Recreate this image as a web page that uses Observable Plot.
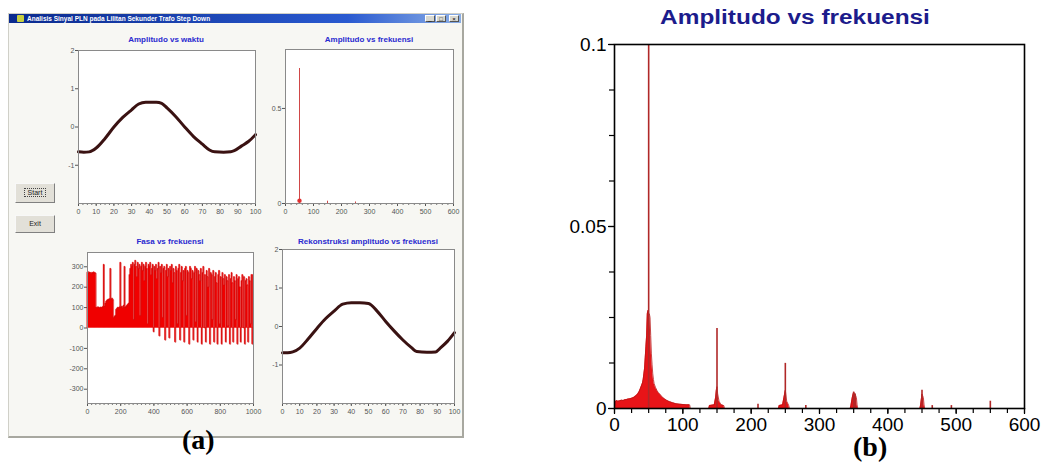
<!DOCTYPE html>
<html><head><meta charset="utf-8">
<script src="https://cdn.jsdelivr.net/npm/d3@7"></script>
<script src="https://cdn.jsdelivr.net/npm/@observablehq/plot@0.6"></script>
<style>
body{margin:0;background:#fff;width:1042px;height:463px;overflow:hidden;position:relative;font-family:"Liberation Sans",Arial,sans-serif}
.abs{position:absolute}
.win{left:8px;top:13px;width:456px;height:425px;background:#f7f7f3;border:1px solid #d0d0c8;border-right:2px solid #a8a8a0;border-bottom:2px solid #a8a8a0;box-sizing:border-box}
.tbar{left:9px;top:14px;width:452px;height:9px;background:linear-gradient(to right,#0a2a8e,#2a5ad0 75%,#8aaee6)}
.ttext{left:27px;top:14px;height:9px;line-height:9px;font-size:6.5px;font-weight:bold;color:#fff;white-space:nowrap}
.ticon{left:17px;top:15px;width:7px;height:7px;background:#c8d040;border-radius:1px}
.tbtn{top:15px;width:10px;height:7px;background:#d8d8d0;border:1px solid #fff;border-right-color:#555;border-bottom-color:#555;font-size:6px;line-height:7px;text-align:center;color:#000;box-sizing:border-box}
.btn{left:15px;width:40px;background:#e2e0d8;border:1px solid #f8f8f8;border-right-color:#808080;border-bottom-color:#808080;font-size:7px;text-align:center;color:#222;box-sizing:border-box}
.stitle{font-size:8px;font-weight:bold;color:#2a2ad0;text-align:center;white-space:nowrap}
.cap{font-family:"Liberation Serif","Times New Roman",serif;font-weight:bold;font-size:28px;color:#000}
.btitle{font-size:20px;font-weight:bold;color:#1c1c8c;text-align:center;white-space:nowrap;transform:scaleX(1.22);transform-origin:50% 50%}
</style></head><body>
<div class="abs win"></div>
<div class="abs tbar"></div>
<div class="abs ticon"></div>
<div class="abs ttext">Analisis Sinyal PLN pada Lilitan Sekunder Trafo Step Down</div>
<div class="abs tbtn" style="left:425px">_</div>
<div class="abs tbtn" style="left:436px">□</div>
<div class="abs tbtn" style="left:449px">×</div>
<div class="abs btn" style="top:183px;height:20px;line-height:18px"><span style="border:1px dotted #444;padding:0 3px">Start</span></div>
<div class="abs btn" style="top:215px;height:18px;line-height:16px">Exit</div>
<div class="abs stitle" style="left:66px;top:35px;width:200px">Amplitudo vs waktu</div>
<div class="abs stitle" style="left:269px;top:35px;width:200px">Amplitudo vs frekuensi</div>
<div class="abs stitle" style="left:70px;top:237px;width:200px">Fasa vs frekuensi</div>
<div class="abs stitle" style="left:268px;top:237px;width:200px">Rekonstruksi amplitudo vs frekuensi</div>
<div class="abs btitle" style="left:595px;top:6px;width:400px">Amplitudo vs frekuensi</div>
<div id="c1" class="abs" style="left:40px;top:45px"></div>
<div id="c2" class="abs" style="left:255px;top:44px"></div>
<div id="c3" class="abs" style="left:45px;top:247px"></div>
<div id="c4" class="abs" style="left:257px;top:244px"></div>
<div id="cb" class="abs" style="left:565px;top:35px"></div>
<div class="abs cap" style="left:182px;top:424px">(a)</div>
<div class="abs cap" style="left:853px;top:431px">(b)</div>
<script>
// ---------- data ----------
// Amplitudo vs waktu
const waktuT   = [0,3,6,10,15,20,25,30,34,38,44,47,50,55,60,65,70,74,77,82,86,88,92,96,100];
const waktuAmp = [-0.65,-0.66,-0.65,-0.55,-0.3,0,0.25,0.45,0.6,0.65,0.65,0.62,0.5,0.27,0,-0.25,-0.45,-0.6,-0.65,-0.66,-0.65,-0.62,-0.5,-0.38,-0.2];
// Rekonstruksi amplitudo
const rekT   = [0,3,6,10,15,20,25,30,35,40,45,50,55,60,65,70,75,78,84,89,92,96,100];
const rekAmp = [-0.68,-0.68,-0.66,-0.56,-0.32,-0.05,0.2,0.4,0.58,0.62,0.62,0.6,0.4,0.13,-0.12,-0.35,-0.55,-0.65,-0.67,-0.66,-0.55,-0.38,-0.16];
// small spectrum
const smallFreq = [50,150,250];
const smallAmp  = [0.71,0.012,0.008];
// Fasa vs frekuensi
const phaseFreq = [0,5,10,15,20,25,30,35,40,45,50,55,60,65,70,75,80,85,90,95,100,105,110,115,120,125,130,135,140,145,150,155,160,165,170,175,180,185,190,195,200,205,210,215,220,225,230,235,240,245,250,255,260,265,270,275,280,285,290,295,300,305,310,315,320,325,330,335,340,345,350,355,360,365,370,375,380,385,390,395,400,405,410,415,420,425,430,435,440,445,450,455,460,465,470,475,480,485,490,495,500,505,510,515,520,525,530,535,540,545,550,555,560,565,570,575,580,585,590,595,600,605,610,615,620,625,630,635,640,645,650,655,660,665,670,675,680,685,690,695,700,705,710,715,720,725,730,735,740,745,750,755,760,765,770,775,780,785,790,795,800,805,810,815,820,825,830,835,840,845,850,855,860,865,870,875,880,885,890,895,900,905,910,915,920,925,930,935,940,945,950,955,960,965,970,975,980,985,990,995,1000];
const phaseVal = [270,275,268,272,270,266,271,269,273,270,268,
100,98,102,100,97,101,99,100,104,310,105,
120,130,135,138,140,142,290,140,145,138,
50,55,60,90,95,100,98,102,320,100,105,98,110,300,100,105,110,115,120,
260,290,310,300,320,40,310,330,300,250,
320,290,310,60,300,320,280,310,230,300,
320,290,20,310,300,320,260,290,310,-20,
300,280,310,240,290,320,-40,300,270,310,
50,290,300,-60,280,310,250,290,-50,300,
280,310,220,290,270,-70,300,280,20,290,
310,-60,270,300,230,280,-70,290,300,60,
280,270,-80,300,290,240,280,-60,270,300,
30,290,-70,280,260,230,290,-80,270,300,
0,260,-70,280,250,200,290,-80,270,260,
40,280,-70,250,270,220,-80,260,280,20,
250,-80,270,240,210,260,-70,250,230,10,
260,-80,240,270,220,-70,250,230,40,260,
-80,240,250,200,-70,230,260,0,250,-80,
230,240,210,-70,250,230,20,260,-80,260];
// (b) big spectrum: broad part and harmonic bumps
const bandFreq = [0,1,3,5,8,10,13,15,18,20,23,25,28,30,32,34,36,38,40,41,42,43,44,45,46,47,48,49,50,51,52,53,54,55,56,57,58,60,62,64,66,68,70,73,76,80,85,90,95,100,105,110,111,
138,139,146,148,149,150,151,153,156,160,161,
240,241,246,248,250,252,255,256,
345,346,348,350,352,354,355,356,
447,448,450,452,453,454];
const bandAmp = [0.0005,0.0018,0.0022,0.002,0.0021,0.0023,0.0022,0.0024,0.0025,0.0026,0.0027,0.0028,0.003,0.0033,0.0036,0.004,0.0046,0.0055,0.0065,0.007,0.008,0.0095,0.011,0.014,0.017,0.02,0.026,0.027,0.026,0.026,0.025,0.02,0.015,0.012,0.0095,0.008,0.0068,0.0058,0.005,0.0044,0.004,0.0036,0.0031,0.0027,0.0023,0.0019,0.0016,0.0013,0.0012,0.0011,0.001,0.001,0,
0,0.0008,0.001,0.003,0.005,0.006,0.004,0.002,0.001,0.0008,0,
0,0.0008,0.001,0.003,0.005,0.002,0.0008,0,
0,0.0008,0.003,0.0045,0.004,0.003,0.001,0,
0,0.001,0.004,0.003,0.001,0];
const spikeFreq = [50,150,250,350,352,450,550,210,280,465,493];
const spikeAmp  = [0.1,0.022,0.0124,0.0045,0.004,0.005,0.002,0.0012,0.0008,0.0008,0.0008];
// tick labels
const wTicksX = [0,10,20,30,40,50,60,70,80,90,100];
const wTicksY = [-1,0,1,2];
const fTicksX = [0,100,200,300,400,500,600];
const fTicksY = [0,0.5];
const pTicksX = [0,200,400,600,800,1000];
const pTicksY = [-300,-200,-100,0,100,200,300];
const bTicksX = [0,100,200,300,400,500,600];
const bTicksY = [0,0.05,0.1];

// ---------- charts ----------
const smallStyle = {fontSize:"7px",fontFamily:"Liberation Sans, Arial, sans-serif",color:"#555",background:"transparent",overflow:"visible"};
const zip = (a,b) => a.map((v,i)=>({x:v,y:b[i]}));
const plain = d => String(d);

function waveChart(T, A, ml){
  return Plot.plot({
    width: ml===38?225:207, height: ml===38?180:181, marginLeft: ml, marginRight:10, marginTop:5, marginBottom:22,
    style: smallStyle,
    x:{domain:[0,100],label:null}, y:{domain:[-2,2],label:null},
    marks:[
      Plot.frame({fill:"white",stroke:null}),
      Plot.axisX({ticks:d3.range(0,101,2.5),tickSize:2,tickFormat:()=>"",stroke:"#777"}),
      Plot.axisX({ticks:wTicksX,tickSize:3,tickPadding:3,tickFormat:plain}),
      Plot.axisY({ticks:wTicksY,tickSize:3,tickPadding:1,tickFormat:plain}),
      Plot.line(zip(T,A),{x:"x",y:"y",stroke:"#3a1212",strokeWidth:3,curve:"monotone-x"}),
      Plot.frame({stroke:"#8a8a8a"})
    ]
  });
}
document.getElementById("c1").append(waveChart(waktuT,waktuAmp,38));
document.getElementById("c4").append(waveChart(rekT,rekAmp,25));

document.getElementById("c2").append(Plot.plot({
  width:208, height:181, marginLeft:30, marginRight:10, marginTop:5, marginBottom:22,
  style: smallStyle,
  x:{domain:[0,600],label:null}, y:{domain:[0,0.81],label:null},
  marks:[
    Plot.frame({fill:"white",stroke:null}),
    Plot.axisX({ticks:d3.range(0,601,20),tickSize:2,tickFormat:()=>"",stroke:"#777"}),
    Plot.axisX({ticks:fTicksX,tickSize:3,tickPadding:3,tickFormat:plain}),
    Plot.axisY({ticks:fTicksY,tickSize:3,tickPadding:1,tickFormat:d=>d===0?"0":String(d)}),
    Plot.ruleX(zip(smallFreq,smallAmp),{x:"x",y1:0,y2:"y",stroke:"#d04848",strokeWidth:1}),
    Plot.dot(zip([50],[0.015]),{x:"x",y:"y",r:2.2,fill:"#e03030",stroke:null}),
    Plot.frame({stroke:"#8a8a8a"})
  ]
}));

document.getElementById("c3").append(Plot.plot({
  width:218, height:178, marginLeft:42, marginRight:10, marginTop:5, marginBottom:22,
  style: smallStyle,
  x:{domain:[0,1000],label:null}, y:{domain:[-370,370],label:null},
  marks:[
    Plot.frame({fill:"white",stroke:null}),
    Plot.axisX({ticks:d3.range(0,1001,25),tickSize:2,tickFormat:()=>"",stroke:"#777"}),
    Plot.axisX({ticks:pTicksX,tickSize:3,tickPadding:3,tickFormat:plain}),
    Plot.axisY({ticks:pTicksY,tickSize:3,tickPadding:1,tickFormat:plain}),
    Plot.areaY(zip(phaseFreq,phaseVal),{x:"x",y:"y",fill:"#f00000",stroke:"#f00000",strokeWidth:0.5,curve:"step"}),
    Plot.lineY(zip(phaseFreq,phaseVal),{x:"x",y:"y",stroke:"#c81010",strokeWidth:0.5,curve:"step"}),
    Plot.frame({stroke:"#8a8a8a"})
  ]
}));

document.getElementById("cb").append(Plot.plot({
  width:475, height:410, marginLeft:49, marginRight:16, marginTop:9, marginBottom:37,
  style:{fontSize:"19px",fontFamily:"Liberation Sans, Arial, sans-serif",color:"#000",background:"transparent",overflow:"visible"},
  x:{domain:[0,600],label:null}, y:{domain:[0,0.1],label:null},
  marks:[
    Plot.axisX({ticks:d3.range(0,601,25),tickSize:5,tickFormat:()=>"",strokeWidth:1.2}),
    Plot.axisX({ticks:bTicksX,tickSize:6,tickPadding:3,strokeWidth:1.2,tickFormat:plain}),
    Plot.axisY({ticks:d3.range(0,0.1001,0.0125),tickSize:5,tickFormat:()=>"",strokeWidth:1.2}),
    Plot.axisY({ticks:bTicksY,tickSize:6,tickPadding:2,strokeWidth:1.2,tickFormat:d=>d===0?"0":String(d)}),
    Plot.areaY(zip(bandFreq,bandAmp),{x:"x",y:"y",fill:"#e81418"}),
    Plot.lineY(zip(bandFreq,bandAmp),{x:"x",y:"y",stroke:"#b81818",strokeWidth:0.8}),
    Plot.ruleX(zip(spikeFreq,spikeAmp),{x:"x",y1:0,y2:"y",stroke:"#b02828",strokeWidth:1.6}),
    Plot.frame({stroke:"#000",strokeWidth:1.6})
  ]
}));
</script>
</body></html>
